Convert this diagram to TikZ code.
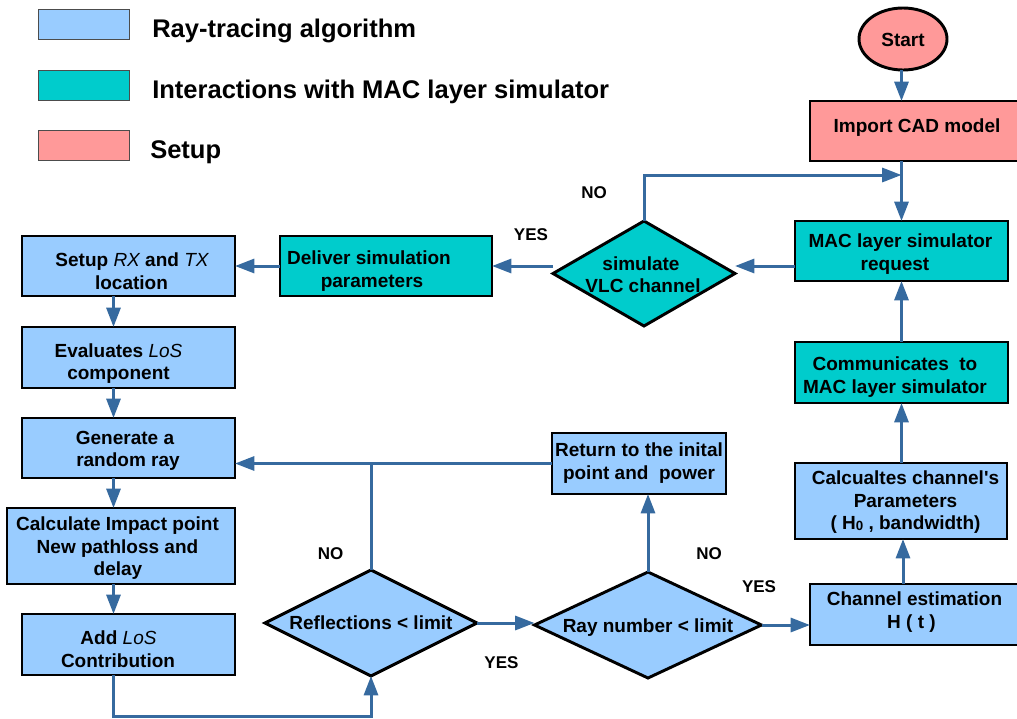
\documentclass[tikz,border=0pt]{standalone}
\usepackage{fontspec}
\setmainfont{Liberation Sans}
\newfontfamily\straightface{Liberation Sans}
\usetikzlibrary{arrows.meta,shapes.geometric,calc}
\definecolor{rayblue}{HTML}{99CCFF}
\definecolor{macteal}{HTML}{00CCCC}
\definecolor{setuppink}{HTML}{FF9999}
\definecolor{flowline}{HTML}{366A9F}
\newdimen\pxu \pxu=0.75pt
\newcommand\Ln[2]{\makebox[0pt]{\hspace*{#1\pxu}\hspace*{#1\pxu}#2}}
\newcommand\tb[2]{\raisebox{\dimexpr-#1\pxu-7.5\pxu\relax}[0pt][0pt]{\begin{tabular}{@{}c@{}}#2\end{tabular}}}
\newcommand\lit[1]{{\mdseries\itshape #1}}
\tikzset{
  x=0.75pt,y=-0.75pt,
  wh/.style 2 args={minimum width=#1*0.75pt,minimum height=#2*0.75pt},
  flowtext/.style={font=\fontsize{14.25}{16.9}\selectfont\bfseries,inner sep=0pt,outer sep=0pt},
  flowbox/.style={flowtext,draw=black,line width=2.2pt,rectangle},
  blubox/.style={flowbox,fill=rayblue},
  macbox/.style={flowbox,fill=macteal},
  pinkbox/.style={flowbox,fill=setuppink},
  decide/.style={flowtext,draw=black,line width=2.2pt,diamond,aspect=2},
  flow/.style={draw=flowline,line width=2.25pt,-{Triangle[length=14.5pt,width=10.5pt]}},
  flowplain/.style={draw=flowline,line width=2.25pt},
  swatch/.style={draw=black!70,line width=0.7pt,rectangle,inner sep=0pt,wh={91}{30}},
  legendtext/.style={font=\fontsize{19.15}{22}\selectfont\bfseries,inner sep=0pt,anchor=west},
  answer/.style={font=\fontsize{12.75}{15}\selectfont\bfseries,inner sep=0pt},
}
\begin{document}
\begin{tikzpicture}
\useasboundingbox (0,0) rectangle (1017,718);
% legend
\node[swatch,fill=rayblue] (sw1) at (83.5,24) {};
\node[swatch,fill=macteal] (sw2) at (83.5,85) {};
\node[swatch,fill=setuppink] (sw3) at (83.5,145) {};
\node[legendtext] (lg1) at (152,30.5) {Ray-tracing algorithm};
\node[legendtext] (lg2) at (152,91.5) {Interactions with MAC layer simulator};
\node[legendtext] (lg3) at (150,152) {Setup};
% right column
\node[flowtext,draw=black,line width=2.2pt,ellipse,fill=setuppink,wh={88}{62}] (start) at (903,39) {\tb{0}{\Ln{0}{Start}}};
\node[pinkbox,wh={214}{60}] (imp) at (917,131) {\tb{-6}{\Ln{0}{Import CAD model}}};
\node[macbox,wh={213}{60}] (mac) at (901.5,251) {\tb{1}{\Ln{-1}{MAC layer simulator}\\ \Ln{-6.5}{request}}};
\node[macbox,wh={213}{61}] (comm) at (901.5,372.5) {\tb{2.5}{\Ln{-6.5}{Communicates\ \ to}\\ \Ln{-6.5}{MAC layer simulator}}};
\node[blubox,wh={212}{76}] (calc) at (901,501) {\tb{-1}{\Ln{4.5}{Calcualtes channel{\straightface\bfseries '}s}\\ \Ln{4.5}{Parameters}\\ \Ln{4.5}{( H{\fontsize{10}{10}\selectfont\raisebox{-0.4pt}{0}} , bandwidth)}}};
\node[blubox,wh={214}{61}] (chan) at (917,614.5) {\tb{-4.5}{\Ln{-2.5}{Channel estimation}\\ \Ln{-5.5}{H ( t )}}};
% middle
\node[decide,fill=macteal,wh={182}{105}] (sim) at (644,273.5) {\tb{1}{\Ln{-3}{simulate}\\ \Ln{-1}{VLC channel}}};
\node[macbox,wh={212}{60}] (deliver) at (386,266) {\tb{3}{\Ln{-17}{Deliver simulation}\\ \Ln{-14}{parameters}}};
\node[blubox,wh={174}{61}] (ret) at (639,463.5) {\tb{-2.5}{\Ln{0}{Return to the inital}\\ \Ln{0}{point and\ \ power}}};
\node[decide,fill=rayblue,wh={212}{106}] (refl) at (371,623) {\tb{-1}{\Ln{0}{Reflections < limit}}};
\node[decide,fill=rayblue,wh={227}{106}] (ray) at (648,625) {\tb{0}{\Ln{0}{Ray number < limit}}};
% left column
\coordinate (col) at (113.5,0);
\node[blubox,wh={213}{60}] (setup) at (128.5,266) {\tb{5}{\Ln{3.5}{Setup \lit{RX} and \lit{TX}}\\ \Ln{3}{location}}};
\node[blubox,wh={213}{61}] (eval) at (128.5,357.5) {\tb{4}{\Ln{-10}{Evaluates \lit{LoS}}\\ \Ln{-10}{component}}};
\node[blubox,wh={213}{60}] (gen) at (128.5,448) {\tb{0.5}{\Ln{-3.5}{Generate a}\\ \Ln{-0.5}{random ray}}};
\node[blubox,wh={228}{76}] (impact) at (121,546) {\tb{0}{\Ln{-3.5}{Calculate Impact point}\\ \Ln{-3.5}{New pathloss and}\\ \Ln{-3}{delay}}};
\node[blubox,wh={213}{61}] (add) at (128.5,644.5) {\tb{4.5}{\Ln{-10}{Add \lit{LoS}}\\ \Ln{-10.5}{Contribution}}};
% answers
\node[answer] (a1) at (594,192.5) {NO};
\node[answer] (a2) at (531,234.5) {YES};
\node[answer] (a3) at (330.5,553.5) {NO};
\node[answer] (a4) at (501.5,662.5) {YES};
\node[answer] (a5) at (709,553.5) {NO};
\node[answer] (a6) at (759,586.5) {YES};
% connectors
\coordinate (merge) at (mac.north |- 0,175);
\coordinate (low) at (refl.south |- 0,716);
\draw[flow] (start.south -| mac.north) -- (imp.north -| mac.north);
\draw[flow] (imp.south -| mac.north) -- (mac.north);
\draw[flow] (sim.north) |- (merge);
\draw[flow] (mac.west |- deliver.east) -- (sim.east |- deliver.east);
\draw[flow] (sim.west |- deliver.east) -- (deliver.east);
\draw[flow] (deliver.west) -- (setup.east);
\draw[flow] (setup.south -| col) -- (eval.north -| col);
\draw[flow] (eval.south -| col) -- (gen.north -| col);
\draw[flow] (gen.south -| col) -- (impact.north -| col);
\draw[flow] (impact.south -| col) -- (add.north -| col);
\draw[flow] (add.south -| col) |- (low) -- (refl.south);
\draw[flow] (refl.east) -- (refl.east -| ray.west);
\draw[flow] (ray.east) -- (ray.east -| chan.west);
\draw[flow] (ray.north) -- (ret.south -| ray.north);
\draw[flow] (ret.west) -- (ret.west -| gen.east);
\draw[flowplain] (refl.north) -- (refl.north |- ret.west);
\draw[flow] (chan.north -| start.south) -- (calc.south -| start.south);
\draw[flow] (calc.north -| comm.south) -- (comm.south);
\draw[flow] (comm.north) -- (mac.south);
\end{tikzpicture}
\end{document}
